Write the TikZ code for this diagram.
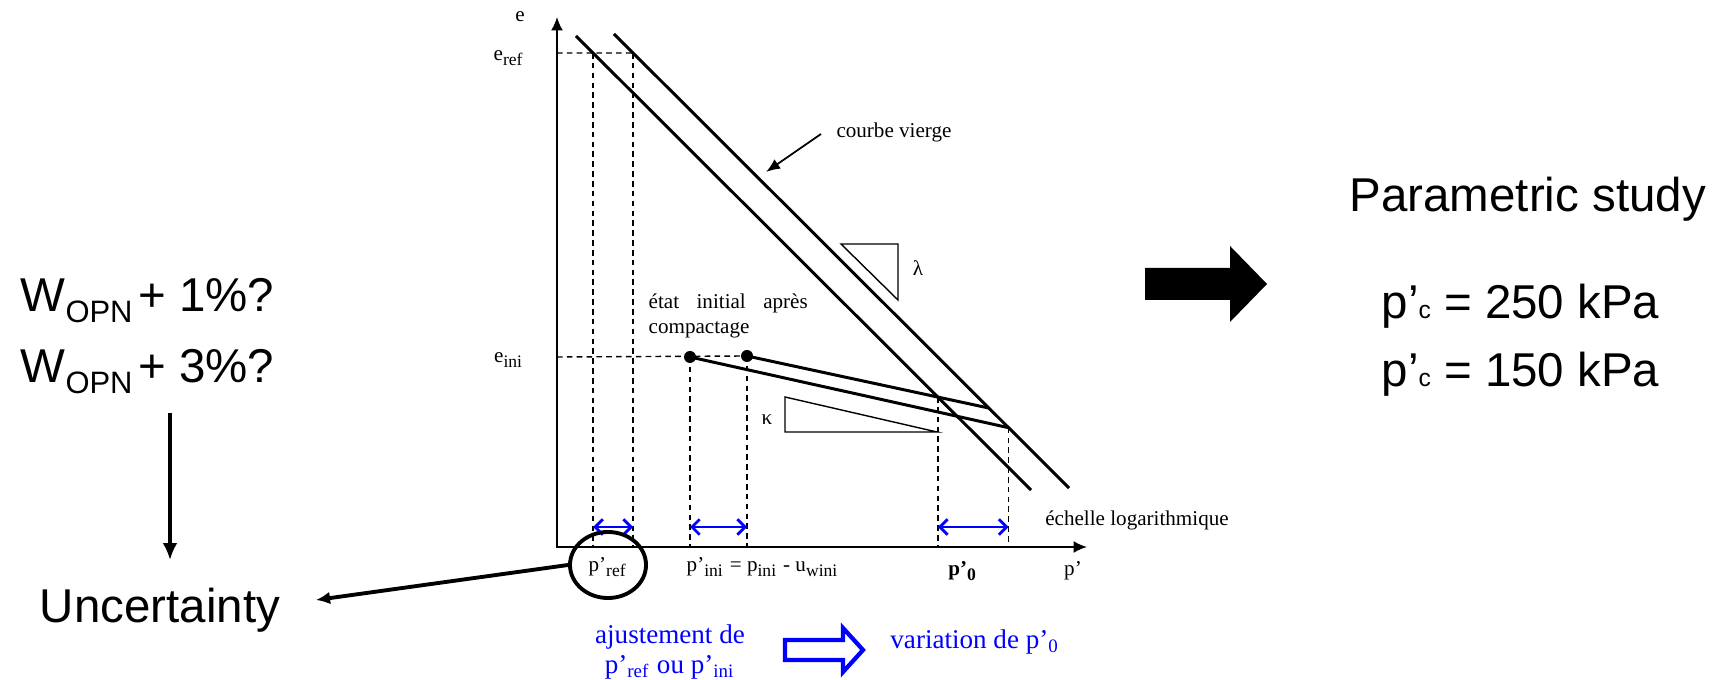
\documentclass[tikz,border=0pt]{standalone}
\usepackage{fontspec}
\setmainfont{Liberation Serif}
\newfontfamily\arialf{Liberation Sans}
\usetikzlibrary{arrows.meta,shapes.geometric}
\newcommand{\opnsub}{\raisebox{-2.9pt}{\fontsize{8.8}{10}\selectfont OPN}}
\newcommand{\csub}{{\fontsize{7}{8}\selectfont c}}
\begin{document}
\begin{tikzpicture}[x=0.01cm,y=-0.01cm,
  ncl/.style={line width=0.85pt},
  axisln/.style={line width=0.6pt,{Latex[length=3.8pt,width=3.4pt]}-{Latex[length=3.8pt,width=3.4pt]}},
  dsh/.style={line width=0.4pt,dash pattern=on 1.6pt off 1.2pt},
  blu/.style={blue,line width=0.8pt,{Straight Barb[length=2.2pt,width=4.4pt]}-{Straight Barb[length=2.2pt,width=4.4pt]}},
  thintri/.style={line width=0.4pt},
  lbl/.style={font=\fontsize{6}{7.1}\selectfont,inner sep=0pt},
  big/.style={font=\arialf\fontsize{13.5}{16}\selectfont,inner sep=0pt},
  btxt/.style={blue,font=\fontsize{7.7}{8.6}\selectfont,inner sep=0pt,align=center},
  blkarrow/.style={line width=1.1pt,-{Latex[length=4pt,width=3.6pt]}},
]
\useasboundingbox (0,0) rectangle (1715,680);

% axes
\coordinate (O) at (557,547);
\coordinate (Ytop) at (557,17);
\coordinate (Xend) at (1087,547);
\draw[axisln] (Ytop) -- (O) -- (Xend);

% NCL lines
\coordinate (N1a) at (576,36);  \coordinate (N1b) at (1031,490);
\coordinate (N2a) at (614,34);  \coordinate (N2b) at (1069,488);
\draw[ncl] (N1a) -- (N1b);
\draw[ncl] (N2a) -- (N2b);

% e_ref
\coordinate (Eref) at (557,53);
\coordinate (Ef) at (1100,53);
\coordinate (R1) at (intersection of N1a--N1b and Eref--Ef);
\coordinate (R2) at (intersection of N2a--N2b and Eref--Ef);
\draw[dsh] (Eref) -- (R2);
\draw[dsh] (R1) -- (R1 |- O);
\draw[dsh] (R2) -- (R2 |- O);

% unloading lines
\coordinate (D1) at (690,357);
\coordinate (D2) at (747,356);
\coordinate (U1f) at (1100,448);
\coordinate (U2f) at (1100,432);
\coordinate (U1e) at (intersection of D1--U1f and N2a--N2b);
\coordinate (U2e) at (intersection of D2--U2f and N2a--N2b);
\coordinate (X2) at (intersection of D2--U2f and N1a--N1b);
\coordinate (Eini) at (557,357);
\draw[dsh] (Eini) -- (D2);
\draw[ncl] (D1) -- (U1e);
\draw[ncl] (D2) -- (U2e);
\fill (D1) circle[radius=0.06cm];
\fill (D2) circle[radius=0.06cm];
\draw[dsh] (D1) -- (D1 |- O);
\draw[dsh] (D2) -- (D2 |- O);
\draw[dsh] (X2) -- (X2 |- O);
\draw[dsh] (U1e) -- (U1e |- O);

% blue double arrows
\draw[blu] (R1 |- 0,527) -- (R2 |- 0,527);
\draw[blu] (D1 |- 0,527) -- (D2 |- 0,527);
\draw[blu] (X2 |- 0,527) -- (U1e |- 0,527);

% slope triangles
\draw[thintri] (841,244) -- (898,244) -- (898,300) -- cycle;
\draw[thintri] (785,397) -- (785,432) -- (937,432) -- cycle;

% labels
\node[lbl] (le) at (520,17) {e};
\node[lbl] (leref) at (509,58) {e\textsubscript{ref}};
\node[lbl] (leini) at (509,360) {e\textsubscript{ini}};
\node[lbl] (lpref) at (608,567) {p’\textsubscript{ref}};
\node[lbl,anchor=west] (lpini) at (686,567) {p’\textsubscript{ini} = p\textsubscript{ini} - u\textsubscript{wini}};
\node[lbl,font=\fontsize{6}{7.1}\selectfont\bfseries] (lp0) at (963,571) {p’\textsubscript{0}};
\node[lbl] (lp) at (1073,571) {p’};
\node[lbl] (lech) at (1137,520) {échelle logarithmique};
\node[lbl] (lcv) at (894,132) {courbe vierge};
\node[lbl] (llam) at (918,268) {λ};
\node[lbl] (lkap) at (767,420) {κ};
\node[lbl,anchor=north west,align=left] (letat) at (648,293) {\hbox to 1.59cm{état\hfill initial\hfill après}\\compactage};

% courbe vierge arrow
\coordinate (cvA) at (821,134);
\coordinate (cvB) at (766,172);
\draw[line width=0.5pt,-{Latex[length=4pt,width=3.2pt]}] (cvA) -- (cvB);

% ellipse around p'ref
\node[draw,ellipse,line width=1.1pt,minimum width=0.76cm,minimum height=0.66cm,inner sep=0pt] (circ) at (608,565) {};

% blue bottom text
\node[btxt] (adj) at (670,652) {ajustement de\\p’\textsubscript{ref} ou p’\textsubscript{ini}};
\node[btxt] (var) at (975,642) {variation de p’\textsubscript{0}};
\draw[blue,line width=1.2pt,line join=miter] (785,640) -- (843,640) -- (843,628) -- (863,650) -- (843,672) -- (843,660) -- (785,660) -- cycle;

% left texts
\node[big,anchor=base west] (w1) at (20,312) {W\opnsub\hspace{0.12em}+ 1\%?};
\node[big,anchor=base west] (w3) at (20,383) {W\opnsub\hspace{0.12em}+ 3\%?};
\node[big,anchor=base] (unc) at (160,623) {Uncertainty};
\coordinate (dA) at (170,413);
\coordinate (dB) at (170,560);
\draw[line width=0.9pt,-{Latex[length=4.8pt,width=4.2pt]}] (dA) -- (dB);
\coordinate (uncT) at (316,600);
\draw[blkarrow] (circ.west) -- (uncT);

% right side
\fill (1145,268) -- (1230,268) -- (1230,246) -- (1267,284) -- (1230,322) -- (1230,300) -- (1145,300) -- cycle;
\node[big,anchor=base west] (ps) at (1349,212) {Parametric study};
\node[big,anchor=base west] (pc1) at (1381,319) {p’\csub\ = 250 kPa};
\node[big,anchor=base west] (pc2) at (1381,387) {p’\csub\ = 150 kPa};
\end{tikzpicture}
\end{document}
